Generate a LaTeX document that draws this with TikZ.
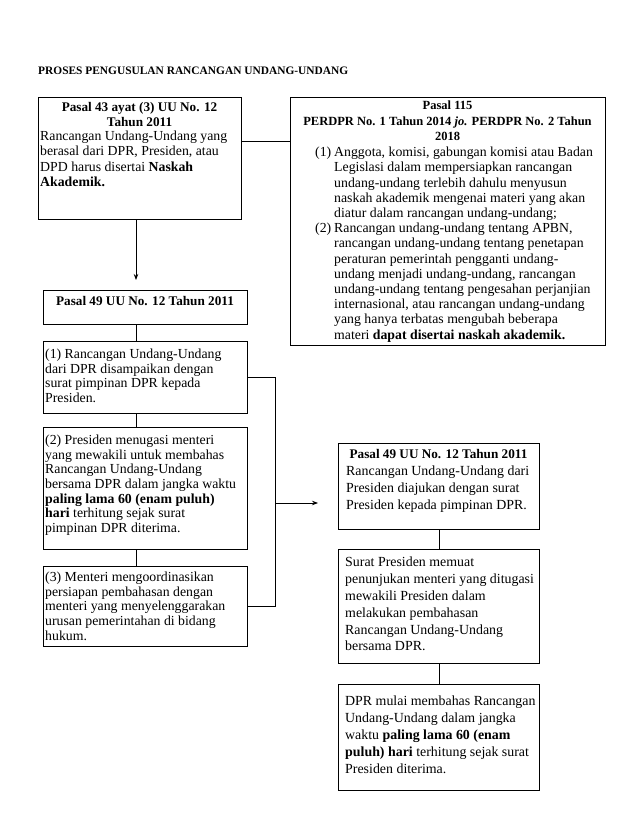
\documentclass[tikz,border=0pt]{standalone}
\usepackage{fontspec}
\setmainfont{Liberation Serif}
\usetikzlibrary{arrows.meta}

\newcommand{\hurufkiri}{\fontsize{13.8}{14.6}\selectfont}
\newcommand{\hurufatas}{\fontsize{13.8}{15.2}\selectfont}
\newcommand{\hurufkanan}{\fontsize{13.9}{16.8}\selectfont}
\newcommand{\hurufjudul}[1]{\fontsize{#1}{15.2}\selectfont\bfseries}

\tikzset{
  kotak/.style={rectangle, draw=black, line width=0.8pt, inner sep=0pt, anchor=north west},
  isi/.style={inner sep=0pt, anchor=north west, align=left},
  judul/.style={inner sep=0pt, anchor=north, align=center},
  panah/.style={-{Stealth[length=6pt,width=4.5pt]}},
  garis/.style={line width=0.8pt},
}

\begin{document}
\begin{tikzpicture}[x=1pt, y=-1pt]
\useasboundingbox (0,0) rectangle (638,826);

% page title
\node[isi, font=\fontsize{11.4}{14}\selectfont\bfseries] (judul) at (38,67)
  {PROSES PENGUSULAN RANCANGAN UNDANG-UNDANG};

% pasal 43
\node[kotak,
    minimum width = 203pt,
    minimum height = 122pt] (a) at (38,97) {};
\node[judul, font=\hurufjudul{13.2}] (a-judul) at (139.5,102)
  {Pasal 43 ayat (3) UU No. 12\\Tahun 2011};
\node[isi, font=\hurufatas] (a-isi) at (40,131)
  {Rancangan Undang-Undang yang\\
   berasal dari DPR, Presiden, atau\\
   DPD harus disertai \textbf{Naskah}\\
   \textbf{Akademik.}};

% pasal 115
\node[kotak,
    minimum width = 315pt,
    minimum height = 248pt] (b) at (290,97) {};
\node[judul, font=\hurufjudul{12.5}] (b-judul) at (447.5,101)
  {Pasal 115\\PERDPR No. 1 Tahun 2014 \textit{jo.} PERDPR No. 2 Tahun\\2018};
\node[isi, font=\hurufatas] (b-isi) at (315,147)
  {\makebox[19pt][l]{(1)}Anggota, komisi, gabungan komisi atau Badan\\
   \hspace*{19pt}Legislasi dalam mempersiapkan rancangan\\
   \hspace*{19pt}undang-undang terlebih dahulu menyusun\\
   \hspace*{19pt}naskah akademik mengenai materi yang akan\\
   \hspace*{19pt}diatur dalam rancangan undang-undang;\\
   \makebox[19pt][l]{(2)}Rancangan undang-undang tentang APBN,\\
   \hspace*{19pt}rancangan undang-undang tentang penetapan\\
   \hspace*{19pt}peraturan pemerintah pengganti undang-\\
   \hspace*{19pt}undang menjadi undang-undang, rancangan\\
   \hspace*{19pt}undang-undang tentang pengesahan perjanjian\\
   \hspace*{19pt}internasional, atau rancangan undang-undang\\
   \hspace*{19pt}yang hanya terbatas mengubah beberapa\\
   \hspace*{19pt}materi \textbf{dapat disertai naskah akademik.}};

% pasal 49, left column
\node[kotak,
    minimum width = 204pt,
    minimum height = 34pt] (c) at (43,290) {};
\node[judul, font=\hurufjudul{13.2}] (c-isi) at (145,296)
  {Pasal 49 UU No. 12 Tahun 2011};

\node[kotak,
    minimum width = 204pt,
    minimum height = 72pt] (d) at (43,341) {};
\node[isi, font=\hurufkiri] (d-isi) at (45,349)
  {(1) Rancangan Undang-Undang\\
   dari DPR disampaikan dengan\\
   surat pimpinan DPR kepada\\
   Presiden.};

\node[kotak,
    minimum width = 204pt,
    minimum height = 122pt] (e) at (43,427) {};
\node[isi, font=\hurufkiri] (e-isi) at (45,435)
  {(2) Presiden menugasi menteri\\
   yang mewakili untuk membahas\\
   Rancangan Undang-Undang\\
   bersama DPR dalam jangka waktu\\
   \textbf{paling lama 60 (enam puluh)}\\
   \textbf{hari} terhitung sejak surat\\
   pimpinan DPR diterima.};

\node[kotak,
    minimum width = 204pt,
    minimum height = 80pt] (f) at (43,566) {};
\node[isi, font=\hurufkiri] (f-isi) at (45,572)
  {(3) Menteri mengoordinasikan\\
   persiapan pembahasan dengan\\
   menteri yang menyelenggarakan\\
   urusan pemerintahan di bidang\\
   hukum.};

% pasal 49, right column
\node[kotak,
    minimum width = 201pt,
    minimum height = 86pt] (g) at (338,443) {};
\node[judul, font=\hurufjudul{13.2}] (g-judul) at (438.5,449)
  {Pasal 49 UU No. 12 Tahun 2011};
\node[isi, font=\hurufkanan] (g-isi) at (346,466)
  {Rancangan Undang-Undang dari\\
   Presiden diajukan dengan surat\\
   Presiden kepada pimpinan DPR.};

\node[kotak,
    minimum width = 201pt,
    minimum height = 114pt] (h) at (338,549) {};
\node[isi, font=\hurufkanan] (h-isi) at (345,557)
  {Surat Presiden memuat\\
   penunjukan menteri yang ditugasi\\
   mewakili Presiden dalam\\
   melakukan pembahasan\\
   Rancangan Undang-Undang\\
   bersama DPR.};

\node[kotak,
    minimum width = 201pt,
    minimum height = 106pt] (i) at (338,684) {};
\node[isi, font=\hurufkanan] (i-isi) at (345,696)
  {DPR mulai membahas Rancangan\\
   Undang-Undang dalam jangka\\
   waktu \textbf{paling lama 60 (enam}\\
   \textbf{puluh) hari} terhitung sejak surat\\
   Presiden diterima.};

% connectors
\coordinate (tulang) at (136,0); % left spine
\coordinate (sisi) at (275,0); % bracket on the right
\coordinate (ujung) at (136,280); % end of the down arrow
\coordinate (ujung2) at (318,503); % end of the side arrow

\draw[garis] ([yshift=17pt]a.east) -- ([yshift=17pt]a.east -| b.west);
\draw[garis, panah] (a.south -| tulang) -- (ujung);
\draw[garis] (c.south -| tulang) -- (d.north -| tulang);
\draw[garis] (d.south -| tulang) -- (e.north -| tulang);
\draw[garis] (e.south -| tulang) -- (f.north -| tulang);
\draw[garis] (d.east) -- (d.east -| sisi) -- (f.east -| sisi) -- (f.east);
\draw[garis, panah] (ujung2 -| sisi) -- (ujung2);
\draw[garis] (g.south) -- (h.north);
\draw[garis] (h.south) -- (i.north);
\end{tikzpicture}
\end{document}
